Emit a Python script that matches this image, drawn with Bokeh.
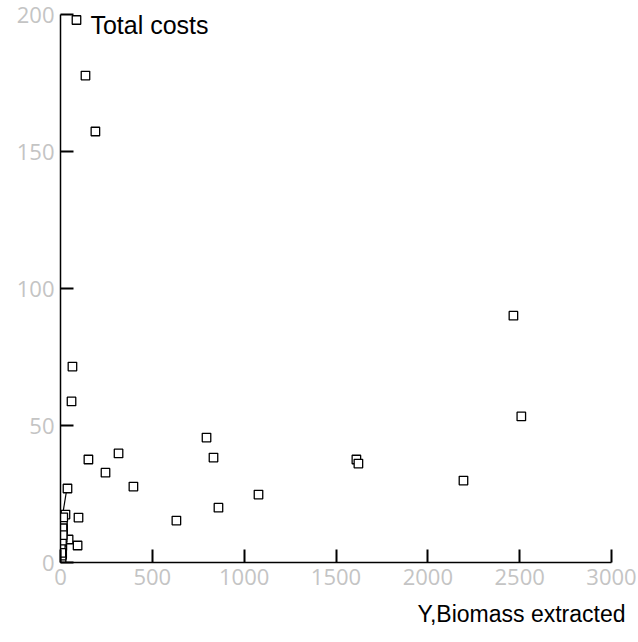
from bokeh.plotting import figure
from bokeh.models import Range1d, Label, FixedTicker, Title
from bokeh.embed import file_html
from bokeh.resources import INLINE

# Scatter data: Y, Biomass extracted vs Total costs
biomass = [87, 136, 190, 65, 60, 152, 245, 316, 397, 38, 27, 98, 44, 93,
           631, 795, 833, 860, 1078, 1611, 1622, 2194, 2466, 2509,
           3, 6, 9, 5, 10, 7, 12, 8, 14, 11, 4, 13, 9, 6, 15, 2, 8, 11, 5, 12]
costs = [198, 177.7, 157.3, 71.5, 58.8, 37.6, 32.8, 39.8, 27.7, 27.0, 17.5, 16.4, 8.4, 6.2,
         15.3, 45.6, 38.3, 20.0, 24.8, 37.6, 36.1, 29.9, 90.1, 53.3,
         0.5, 1.5, 3.0, 4.5, 6.0, 7.5, 9.0, 10.5, 12.0, 13.0, 14.0, 15.0, 11.5, 2.5, 16.5, 5.5,
         8.0, 12.5, 3.5, 10.0]

# connecting segments near the origin
seg1_x = [36, 13]
seg1_y = [27.5, 18.0]
seg2_x = [47, 27]
seg2_y = [8.4, 7.0]

x_ticks = [0, 500, 1000, 1500, 2000, 2500, 3000]
y_ticks = [0, 50, 100, 150, 200]

p = figure(width=638, height=642, output_backend="svg", toolbar_location=None,
           x_range=Range1d(0, 3000), y_range=Range1d(0, 200),
           min_border_left=60, min_border_right=27, min_border_top=14, min_border_bottom=80)
p.outline_line_color = None
p.xgrid.visible = False
p.ygrid.visible = False
p.background_fill_color = "white"

for ax in (p.xaxis, p.yaxis):
    ax.axis_line_color = "black"
    ax.axis_line_width = 1.5
    ax.major_tick_out = 0
    ax.major_tick_in = 13
    ax.major_tick_line_width = 2
    ax.minor_tick_line_color = None
    ax.major_label_text_color = "#c4c4c4"
    ax.major_label_text_font = "Open Sans"
    ax.major_label_text_font_size = "22px"
    ax.major_label_text_font_style = "normal"

p.xaxis.ticker = FixedTicker(ticks=x_ticks)
p.yaxis.ticker = FixedTicker(ticks=y_ticks)
p.xaxis.major_label_standoff = 6
p.yaxis.major_label_standoff = 6

p.add_layout(Title(text="Y,Biomass extracted", align="right",
                   text_font="Liberation Sans", text_font_size="23px",
                   text_font_style="normal", text_color="black",
                   standoff=22, offset=-14), "below")

p.line(seg1_x, seg1_y, line_color="black", line_width=1.2)
p.line(seg2_x, seg2_y, line_color="black", line_width=1.2)

p.scatter(biomass, costs, marker="square", size=8.5, fill_color="white",
          line_color="black", line_width=1.3)

p.add_layout(Label(x=163, y=196, text="Total costs", text_align="left",
                   text_baseline="middle", text_font="Liberation Sans",
                   text_font_size="25px", text_color="black"))

open("out.html", "w").write(file_html(p, INLINE))
